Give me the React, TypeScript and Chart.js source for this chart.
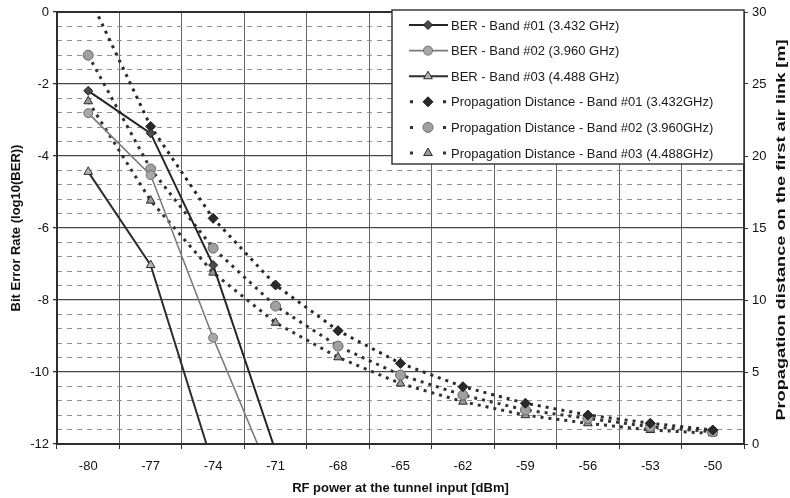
import React, { useEffect, useRef } from "react";
import { Chart, registerables } from "chart.js";

Chart.register(...registerables);

const xLabels = ["-80", "-77", "-74", "-71", "-68", "-65", "-62", "-59", "-56", "-53", "-50"];

const berBand01 = [-2.19, -3.37, -7.03, -12.2, null, null, null, null, null, null, null];
const berBand02 = [-2.81, -4.53, -9.05, -13.2, null, null, null, null, null, null, null];
const berBand03 = [-4.44, -7.03, -12.6, null, null, null, null, null, null, null, null];

const distBand01 = [31.2, 22.05, 15.67, 11.04, 7.87, 5.6, 3.98, 2.83, 2.01, 1.44, 0.97];
const distBand02 = [27.0, 19.1, 13.6, 9.58, 6.8, 4.79, 3.4, 2.36, 1.78, 1.2, 0.85];
const distBand03 = [23.8, 16.9, 11.9, 8.42, 6.02, 4.2, 2.94, 2.0, 1.44, 0.97, 0.74];

const seriesLabels = [
  "BER - Band #01 (3.432 GHz)",
  "BER - Band #02 (3.960 GHz)",
  "BER - Band #03 (4.488 GHz)",
  "Propagation Distance - Band #01 (3.432GHz)",
  "Propagation Distance - Band #02 (3.960GHz)",
  "Propagation Distance - Band #03 (4.488GHz)",
];

const leftTitle = "Bit Error Rate (log10(BER))";
const rightTitle = "Propagation distance on the first air link [m]";
const xTitle = "RF power at the tunnel input [dBm]";

const FONT = "'Liberation Sans', Arial, Helvetica, sans-serif";

type Style = {
  line: string;
  width: number;
  dash: number[];
  shape: "rectRot" | "circle" | "triangle";
  fill: string;
  stroke: string;
  r: number;
};

const styles: Style[] = [
  { line: "#262626", width: 2, dash: [], shape: "rectRot", fill: "#4a4a4a", stroke: "#1e1e1e", r: 4.5 },
  { line: "#7a7a7a", width: 1.6, dash: [], shape: "circle", fill: "#a8a8a8", stroke: "#6e6e6e", r: 4.5 },
  { line: "#2e2e2e", width: 2, dash: [], shape: "triangle", fill: "#b5b5b5", stroke: "#2a2a2a", r: 5 },
  { line: "#2a2a2a", width: 3, dash: [3, 5], shape: "rectRot", fill: "#2a2a2a", stroke: "#1a1a1a", r: 5 },
  { line: "#333333", width: 3, dash: [3, 5], shape: "circle", fill: "#a0a0a0", stroke: "#6a6a6a", r: 5 },
  { line: "#333333", width: 3, dash: [3, 5], shape: "triangle", fill: "#9a9a9a", stroke: "#2a2a2a", r: 5 },
];

const isMajor = (v: number) => Math.abs(v / 2 - Math.round(v / 2)) < 1e-6;

function drawMarker(ctx: CanvasRenderingContext2D, s: Style, x: number, y: number) {
  ctx.save();
  ctx.setLineDash([]);
  ctx.fillStyle = s.fill;
  ctx.strokeStyle = s.stroke;
  ctx.lineWidth = 1;
  ctx.beginPath();
  const r = s.r;
  if (s.shape === "circle") {
    ctx.arc(x, y, r, 0, Math.PI * 2);
  } else if (s.shape === "rectRot") {
    ctx.moveTo(x, y - r);
    ctx.lineTo(x + r, y);
    ctx.lineTo(x, y + r);
    ctx.lineTo(x - r, y);
    ctx.closePath();
  } else {
    const h = r * 1.5;
    ctx.moveTo(x, y - h * 0.66);
    ctx.lineTo(x + r * 0.87, y + h * 0.34);
    ctx.lineTo(x - r * 0.87, y + h * 0.34);
    ctx.closePath();
  }
  ctx.fill();
  ctx.stroke();
  ctx.restore();
}

const decorPlugin = {
  id: "decor",
  afterDatasetsDraw(chart: any) {
    const { ctx, chartArea: ca } = chart;
    ctx.save();
    // frame
    ctx.setLineDash([]);
    ctx.strokeStyle = "#2e2e2e";
    ctx.lineWidth = 2;
    ctx.strokeRect(ca.left, ca.top, ca.right - ca.left, ca.bottom - ca.top);

    // legend box
    const lx = 392;
    const ly = 10;
    const lw = ca.right - lx;
    const lh = 154;
    ctx.fillStyle = "#ffffff";
    ctx.fillRect(lx, ly, lw, lh);
    ctx.strokeStyle = "#3a3a3a";
    ctx.lineWidth = 1.5;
    ctx.strokeRect(lx, ly, lw, lh);

    ctx.font = `13px ${FONT}`;
    ctx.textBaseline = "middle";
    ctx.textAlign = "left";
    seriesLabels.forEach((label, i) => {
      const s = styles[i];
      const y = 25 + i * 25.6;
      ctx.strokeStyle = s.line;
      ctx.lineWidth = s.width;
      ctx.setLineDash([]);
      ctx.beginPath();
      if (i < 3) {
        ctx.moveTo(409, y);
        ctx.lineTo(448, y);
      } else {
        ctx.moveTo(410, y);
        ctx.lineTo(413, y);
        ctx.moveTo(443, y);
        ctx.lineTo(446, y);
      }
      ctx.stroke();
      drawMarker(ctx, s, 428, y);
      ctx.fillStyle = "#1a1a1a";
      ctx.fillText(label, 451, y + 1);
    });

    // axis titles
    ctx.fillStyle = "#111111";
    ctx.font = `bold 13px ${FONT}`;
    ctx.textAlign = "center";
    ctx.textBaseline = "middle";

    ctx.save();
    ctx.translate(16, (ca.top + ca.bottom) / 2);
    ctx.rotate(-Math.PI / 2);
    ctx.fillText(leftTitle, 0, 0);
    ctx.restore();

    ctx.save();
    ctx.translate(781, 230);
    ctx.rotate(-Math.PI / 2);
    ctx.scale(1.4, 1);
    ctx.fillText(rightTitle, 0, 0);
    ctx.restore();

    ctx.fillText(xTitle, (ca.left + ca.right) / 2, 488);
    ctx.restore();
  },
};

export default function App() {
  const ref = useRef<HTMLCanvasElement | null>(null);

  useEffect(() => {
    document.body.style.margin = "0";
    const canvas = ref.current;
    if (!canvas) return;

    const mk = (i: number, data: (number | null)[], axis: string) => {
      const s = styles[i];
      return {
        label: seriesLabels[i],
        data,
        yAxisID: axis,
        borderColor: s.line,
        borderWidth: s.width,
        borderDash: s.dash,
        backgroundColor: s.fill,
        pointStyle: s.shape,
        pointRadius: s.r,
        pointBackgroundColor: s.fill,
        pointBorderColor: s.stroke,
        pointBorderWidth: 1,
        tension: 0,
        spanGaps: false,
        fill: false,
      };
    };

    const chart = new Chart(canvas, {
      type: "line",
      data: {
        labels: xLabels,
        datasets: [
          mk(0, berBand01, "y"),
          mk(1, berBand02, "y"),
          mk(2, berBand03, "y"),
          mk(3, distBand01, "y1"),
          mk(4, distBand02, "y1"),
          mk(5, distBand03, "y1"),
        ],
      },
      options: {
        animation: false,
        responsive: false,
        devicePixelRatio: 1,
        layout: { padding: { top: 12, left: 0, right: 0, bottom: 0 } },
        plugins: {
          legend: { display: false },
          tooltip: { enabled: false },
          title: { display: false },
        },
        scales: {
          x: {
            type: "category",
            offset: true,
            grid: {
              offset: true,
              color: "#666666",
              lineWidth: 1,
              tickLength: 5,
              tickColor: "#333333",
            },
            border: { display: false },
            ticks: {
              color: "#111111",
              font: { family: FONT, size: 13 },
              padding: 10,
              maxRotation: 0,
              autoSkip: false,
            },
            afterFit: (s: any) => {
              s.height = 54;
            },
          },
          y: {
            type: "linear",
            position: "left",
            min: -12,
            max: 0,
            ticks: {
              stepSize: 0.4,
              autoSkip: false,
              color: "#111111",
              font: { family: FONT, size: 13 },
              padding: 4,
              callback: (v: any) => (isMajor(Number(v)) ? String(Math.round(Number(v)) || 0) : ""),
            },
            grid: {
              color: (c: any) => (c.tick && isMajor(c.tick.value) ? "#474747" : "#8e8e8e"),
              lineWidth: (c: any) => (c.tick && isMajor(c.tick.value) ? 1.3 : 1),
              tickLength: 4,
              tickColor: (c: any) => (c.tick && isMajor(c.tick.value) ? "#333333" : "rgba(0,0,0,0)"),
            },
            border: {
              display: false,
              dash: (c: any) => (c.tick && isMajor(c.tick.value) ? [] : [5, 5]),
            },
            afterFit: (s: any) => {
              s.width = 57;
            },
          },
          y1: {
            type: "linear",
            position: "right",
            min: 0,
            max: 30,
            ticks: {
              stepSize: 5,
              color: "#111111",
              font: { family: FONT, size: 13 },
              padding: 4,
            },
            grid: {
              drawOnChartArea: false,
              tickLength: 4,
              color: "#333333",
            },
            border: { display: false },
            afterFit: (s: any) => {
              s.width = 46;
            },
          },
        },
      } as any,
      plugins: [decorPlugin],
    });

    return () => chart.destroy();
  }, []);

  return (
    <div style={{ width: 790, height: 498 }}>
      <canvas ref={ref} width={790} height={498} style={{ display: "block" }} />
    </div>
  );
}
